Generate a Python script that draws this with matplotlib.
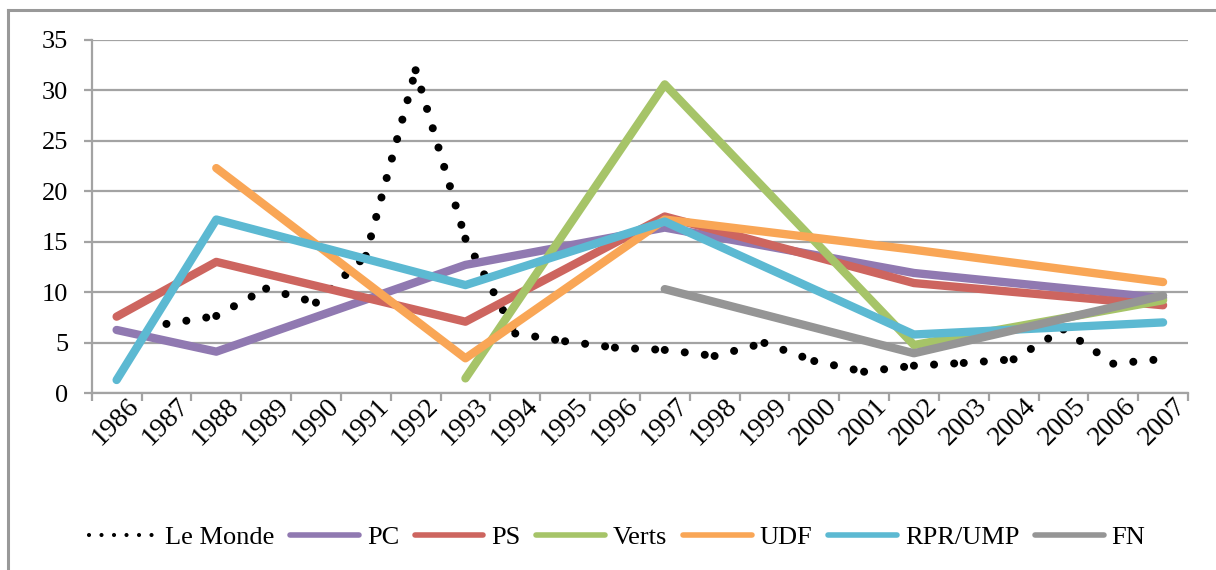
import numpy as np
import matplotlib
matplotlib.use("Agg")
import matplotlib.pyplot as plt
from matplotlib.lines import Line2D
from matplotlib.transforms import ScaledTranslation, blended_transform_factory

years = [str(y) for y in range(1986, 2008)]
N = None
le_monde = [N, 6.85, 7.64, 10.35, 8.96, 13.6, 32.0, 15.3, 5.9, 5.13, 4.5,
            4.27, 3.67, 4.96, 3.17, 2.11, 2.71, 2.98, 3.34, 6.3, 2.91, 3.37]
pc    = [6.25, N, 4.1, N, N, N, N, 12.7, N, N, N, 16.4, N, N, N, N, 11.9, N, N, N, N, 9.4]
ps    = [7.57, N, 13.0, N, N, N, N, 7.07, N, N, N, 17.5, N, N, N, N, 10.9, N, N, N, N, 8.7]
verts = [N, N, N, N, N, N, N, 1.45, N, N, N, 30.6, N, N, N, N, 4.76, N, N, N, N, 9.2]
udf   = [N, N, 22.3, N, N, N, N, 3.44, N, N, N, 17.2, N, N, N, N, 14.2, N, N, N, N, 11.0]
rpr   = [1.29, N, 17.2, N, N, N, N, 10.7, N, N, N, 17.0, N, N, N, N, 5.8, N, N, N, N, 7.0]
fn    = [N, N, N, N, N, N, N, N, N, N, N, 10.3, N, N, N, N, 3.94, N, N, N, N, 9.66]

series = [("PC", pc, "#9079B1"), ("PS", ps, "#CD655F"), ("Verts", verts, "#A6C468"),
          ("UDF", udf, "#F9A656"), ("RPR/UMP", rpr, "#5CB9D2"), ("FN", fn, "#959595")]

plt.rcParams['font.family'] = ['Liberation Serif', 'DejaVu Serif']
GRID = "#A3A3A3"

fig = plt.figure(figsize=(12.16, 5.70), dpi=100)
ax = fig.add_axes([91.7/1216, 1-393/570, (1188-91.7)/1216, (393-40)/570])

x = np.arange(len(years))
def pts(vals):
    idx = [i for i, v in enumerate(vals) if v is not None]
    return x[idx], np.array([vals[i] for i in idx], float)

# dotted series: pattern restarts at every data point (as in the original)
lx, ly = pts(le_monde)
for k in range(len(lx) - 1):
    ax.plot(lx[k:k+2], ly[k:k+2], color="black", lw=5.8,
            linestyle=(0, (0.001, 2.5)), dash_capstyle="round", zorder=3)
for name, vals, col in series:
    px, py = pts(vals)
    ax.plot(px, py, color=col, lw=6.0, solid_capstyle="round",
            solid_joinstyle="round", zorder=4)

ax.set_xlim(-0.5, len(years) - 0.5)
ax.set_ylim(0, 35)
ax.set_yticks(range(0, 36, 5))
ax.set_xticks(np.arange(len(years) + 1) - 0.5)
ax.set_xticklabels([])
ax.yaxis.grid(True, color=GRID, lw=1.6)
ax.set_axisbelow(True)
for s in ["top", "right"]:
    ax.spines[s].set_visible(False)
for s in ["left", "bottom"]:
    ax.spines[s].set_color(GRID)
    ax.spines[s].set_linewidth(1.6)
ax.tick_params(axis="both", colors=GRID, width=1.6, length=6, labelsize=19,
               labelcolor="black")
ax.tick_params(axis="y", pad=11)

trans = blended_transform_factory(ax.transData, ax.transAxes) + \
    ScaledTranslation(0.19, -0.09, fig.dpi_scale_trans)
for i, yr in enumerate(years):
    ax.text(i, 0, yr, transform=trans, rotation=45, ha="right", va="center",
            rotation_mode="anchor", fontsize=20, color="black")

handles = [Line2D([], [], color="black", lw=3.0, linestyle=(0, (0.001, 3.0)),
                  dash_capstyle="round")]
labels = ["Le Monde"]
for name, vals, col in series:
    handles.append(Line2D([], [], color=col, lw=4.0, solid_capstyle="round"))
    labels.append(name)
fig.legend(handles, labels, loc="center", bbox_to_anchor=(617/1216, 1-537/570),
           ncol=7, frameon=False, fontsize=19, handlelength=2.6,
           handletextpad=0.3, columnspacing=0.6)

# chart-area border (top and left edges visible)
fig.add_artist(Line2D([8/1216, 8/1216], [0, 1-10/570], color="#999999", lw=2.2,
                      transform=fig.transFigure))
fig.add_artist(Line2D([8/1216, 1], [1-10/570, 1-10/570], color="#999999", lw=2.2,
                      transform=fig.transFigure))

fig.savefig("out.png", dpi=100, facecolor="white")
